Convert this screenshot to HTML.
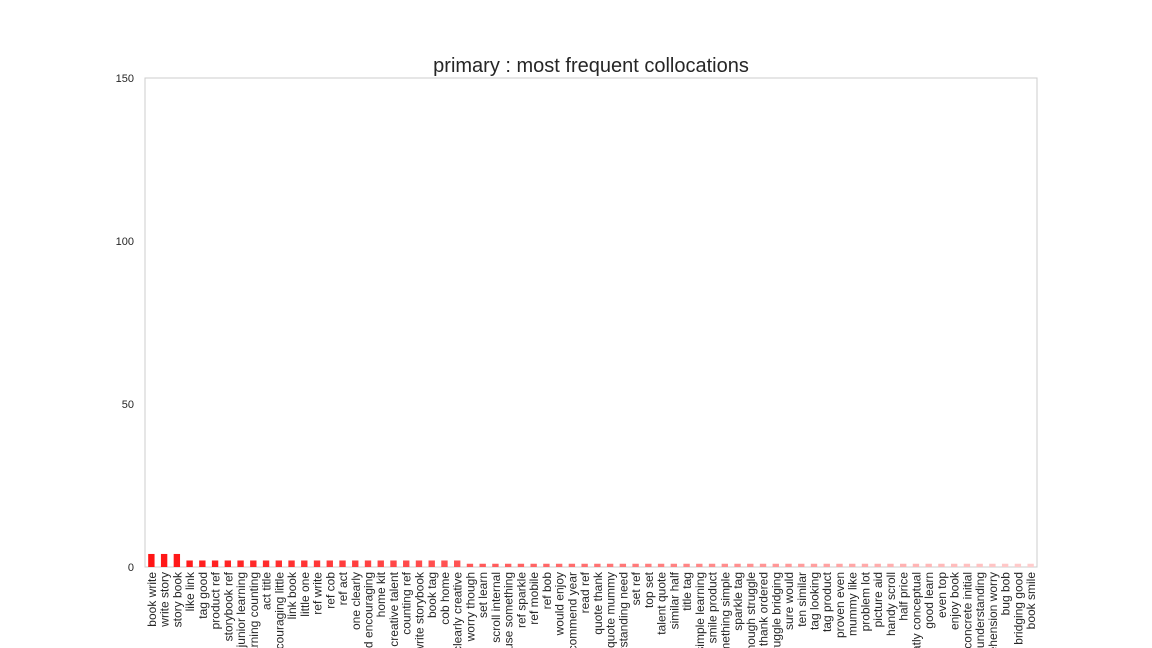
<!DOCTYPE html>
<html><head><meta charset="utf-8"><style>
html,body{margin:0;padding:0;background:#fff;width:1152px;height:648px;overflow:hidden}
</style></head><body>
<svg id="chart" width="1152" height="648" xmlns="http://www.w3.org/2000/svg" font-family="Liberation Sans, sans-serif" style="display:block">
<defs><clipPath id="clipx"><rect x="0" y="0" width="1152" height="648"/></clipPath></defs>
<text x="591" y="72" text-anchor="middle" font-size="20" fill="#262626">primary : most frequent collocations</text>
<rect x="145" y="78" width="892" height="489" fill="none" stroke="#cccccc" stroke-width="1"/>
<g id="bars"></g><g id="xt" clip-path="url(#clipx)"></g><g id="yt"></g>
</svg>
<script>
const categories = ["book write","write story","story book","like link","tag good","product ref","storybook ref","junior learning","learning counting","act title","encouraging little","link book","little one","ref write","ref cob","ref act","one clearly","kid encouraging","home kit","creative talent","counting ref","write storybook","book tag","cob home","clearly creative","worry though","set learn","scroll internal","use something","ref sparkle","ref mobile","ref bob","would enjoy","recommend year","read ref","quote thank","quote mummy","understanding need","set ref","top set","talent quote","similar half","title tag","simple learning","smile product","something simple","sparkle tag","though struggle","thank ordered","struggle bridging","sure would","ten similar","tag looking","tag product","proven even","mummy like","problem lot","picture aid","handy scroll","half price","greatly conceptual","good learn","even top","enjoy book","concrete initial","understanding","comprehension worry","bug bob","bridging good","book smile"];
const values = [4,4,4,2,2,2,2,2,2,2,2,2,2,2,2,2,2,2,2,2,2,2,2,2,2,1,1,1,1,1,1,1,1,1,1,1,1,1,1,1,1,1,1,1,1,1,1,1,1,1,1,1,1,1,1,1,1,1,1,1,1,1,1,1,1,1,1,1,1,1];
const yTicks = [0,50,100,150];
const NS="http://www.w3.org/2000/svg";
const L=145,R=1037,T=78,B=567,yMax=150;
const step=(R-L)/categories.length;
const x=i=>L+step*(i+0.5);
const y=v=>B-(v/yMax)*(B-T);
const bars=document.getElementById('bars'),xt=document.getElementById('xt'),yt=document.getElementById('yt');
const n=categories.length;
categories.forEach((c,i)=>{
  const g=Math.round(20+185*i/(n-1));
  const r=document.createElementNS(NS,'rect');
  
  
  r.setAttribute('x',x(i)-step*0.25);r.setAttribute('width',step*0.5);
  r.setAttribute('y',y(values[i]));r.setAttribute('height',B-y(values[i]));
  r.setAttribute('fill','rgb(255,'+g+','+g+')');
  bars.appendChild(r);
  const t=document.createElementNS(NS,'text');
  
  
  t.setAttribute('transform','translate('+(x(i)+4.5)+','+(B+5)+') rotate(-90)');
  t.setAttribute('text-anchor','end');t.setAttribute('font-size','12');t.setAttribute('fill','#262626');
  t.textContent=c;xt.appendChild(t);
});
yTicks.forEach(v=>{
  const t=document.createElementNS(NS,'text');
  
  
  t.setAttribute('x',134);t.setAttribute('y',y(v)+4);t.setAttribute('text-anchor','end');
  t.setAttribute('font-size','11');t.setAttribute('fill','#262626');
  t.textContent=v;yt.appendChild(t);
});
</script>
</body></html>
